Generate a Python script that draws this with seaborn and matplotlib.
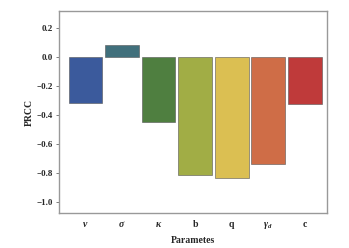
import matplotlib
matplotlib.use("Agg")
import matplotlib.pyplot as plt
import seaborn as sns
import pandas as pd

params = [r"$\nu$", r"$\sigma$", r"$\kappa$", r"$\mathbf{b}$", r"$\mathbf{q}$", r"$\gamma_d$", r"$\mathbf{c}$"]
prcc = [-0.317, 0.085, -0.45, -0.81, -0.83, -0.735, -0.32]
colors = ["#3b5a9c", "#41707c", "#4f7f40", "#a1ad45", "#dbbf52", "#cf6d47", "#bf3a3a"]
yticks = [0.2, 0.0, -0.2, -0.4, -0.6, -0.8, -1.0]

sns.set_theme(style="white")
plt.rcParams["font.family"] = ["Liberation Serif", "DejaVu Serif"]
plt.rcParams["font.weight"] = "bold"
plt.rcParams["mathtext.fontset"] = "custom"
plt.rcParams["mathtext.rm"] = "Liberation Serif:bold"
plt.rcParams["mathtext.it"] = "Liberation Serif:italic:bold"
plt.rcParams["mathtext.bf"] = "Liberation Serif:bold"

df = pd.DataFrame({"param": params, "prcc": prcc})

fig = plt.figure(figsize=(3.49, 2.48), dpi=100)
ax = fig.add_axes([0.169, 0.141, 0.768, 0.815])
sns.barplot(data=df, x="param", y="prcc", hue="param", palette=colors,
            legend=False, width=0.92, saturation=1, ax=ax,
            edgecolor="#555555", linewidth=0.4)
ax.set_ylim(-1.075, 0.32)
ax.set_xlim(-0.73, 6.61)
ax.set_yticks(yticks)
ax.set_yticklabels([f"{v:.1f}".replace("-", "\u2212") for v in yticks], fontsize=6.5, fontweight="bold")
ax.tick_params(axis="y", left=True, length=2.5, width=0.6, color="#666666", pad=2)
ax.tick_params(axis="x", bottom=False, labelsize=7, pad=3)
for lab in ax.get_xticklabels():
    lab.set_fontweight("bold")
    lab.set_verticalalignment("baseline")
ax.set_ylabel("PRCC", fontsize=7, fontweight="bold", labelpad=2)
ax.set_xlabel("Parametes", fontsize=7, fontweight="bold")
ax.xaxis.set_label_coords(0.5, -0.115)
ax.xaxis.label.set_verticalalignment("top")
for s in ax.spines.values():
    s.set_color("#999999")
    s.set_linewidth(1.0)

fig.canvas.draw()
for lab in ax.get_xticklabels():
    x, y = lab.get_position()
    lab.set_transform(ax.get_xaxis_transform())
    lab.set_position((x, -0.07))

fig.savefig("out.png", dpi=100)
